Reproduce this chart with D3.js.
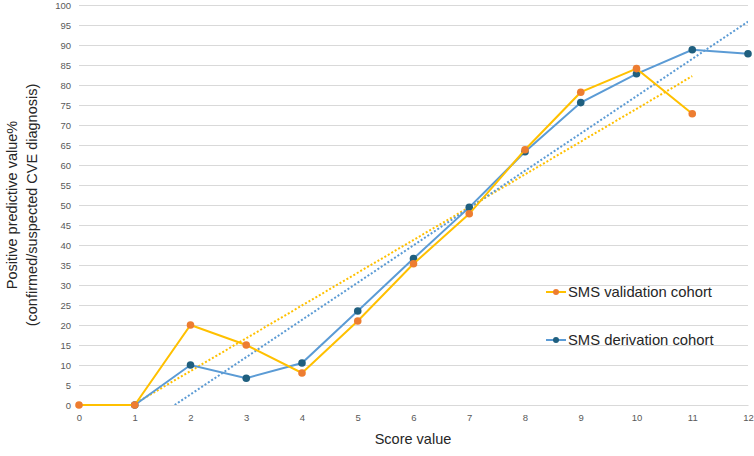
<!DOCTYPE html>
<html>
<head>
<meta charset="utf-8">
<script src="https://cdn.jsdelivr.net/npm/d3@7"></script>
<style>
  body { margin: 0; background: #fff; }
  text { font-family: "Liberation Sans", Arial, sans-serif; }
</style>
</head>
<body>
<div id="chart"></div>
<script>
const scoreTicks = [0, 1, 2, 3, 4, 5, 6, 7, 8, 9, 10, 11, 12];
const yTicks = d3.range(0, 101, 5);

const validationX = [0, 1, 2, 3, 4, 5, 6, 7, 8, 9, 10, 11];
const validationY = [0, 0, 20, 15, 8, 21, 35.3, 47.8, 63.8, 78.2, 84.1, 72.8];

const derivationX = [1, 2, 3, 4, 5, 6, 7, 8, 9, 10, 11, 12];
const derivationY = [0, 10, 6.7, 10.5, 23.5, 36.6, 49.4, 63.3, 75.6, 82.8, 88.8, 87.8];

const seriesNames = ["SMS validation cohort", "SMS derivation cohort"];

const width = 754, height = 456;
const margin = { top: 5, right: 6, bottom: 51, left: 79 };

const x = d3.scaleLinear().domain([0, 12]).range([margin.left, width - margin.right]);
const y = d3.scaleLinear().domain([0, 100]).range([height - margin.bottom, margin.top]);

const svg = d3.select("#chart").append("svg")
  .attr("width", width).attr("height", height);

svg.append("defs").append("clipPath").attr("id", "plot")
  .append("rect")
  .attr("x", margin.left).attr("y", margin.top)
  .attr("width", width - margin.left - margin.right)
  .attr("height", height - margin.top - margin.bottom);

// gridlines + y labels
const yAxis = svg.append("g")
  .attr("transform", `translate(${margin.left},0)`)
  .call(d3.axisLeft(y).tickValues(yTicks).tickSize(-(width - margin.left - margin.right)).tickPadding(8));
yAxis.select(".domain").remove();
yAxis.selectAll(".tick line").attr("stroke", "#d9d9d9").attr("stroke-width", 1);
yAxis.selectAll(".tick text").attr("fill", "#595959").style("font-size", "9.5px");

const xAxis = svg.append("g")
  .attr("transform", `translate(0,${height - margin.bottom})`)
  .call(d3.axisBottom(x).tickValues(scoreTicks).tickSize(0).tickPadding(9));
xAxis.select(".domain").attr("stroke", "#d9d9d9");
xAxis.selectAll(".tick text").attr("fill", "#595959").style("font-size", "9.5px");

// linear trendlines (least squares)
function fit(xs, ys) {
  const mx = d3.mean(xs), my = d3.mean(ys);
  const b = d3.sum(xs, (v, i) => (v - mx) * (ys[i] - my)) / d3.sum(xs, v => (v - mx) ** 2);
  return { a: my - b * mx, b };
}
function trendPts(xs, ys) {
  const f = fit(xs, ys);
  let x0 = d3.min(xs), x1 = d3.max(xs);
  if (f.a + f.b * x0 < 0) x0 = -f.a / f.b;
  return [[x0, f.a + f.b * x0], [x1, f.a + f.b * x1]];
}

const line = d3.line().x(d => x(d[0])).y(d => y(d[1]));
const plot = svg.append("g").attr("clip-path", "url(#plot)");

const series = [
  { xs: validationX, ys: validationY, line: "#FFC000", marker: "#ED7D31" },
  { xs: derivationX, ys: derivationY, line: "#5B9BD5", marker: "#1F5F7F" }
];

series.forEach(s => {
  plot.append("path")
    .attr("d", line(trendPts(s.xs, s.ys)))
    .attr("fill", "none").attr("stroke", s.line)
    .attr("stroke-width", 2).attr("stroke-dasharray", "2,2");
});

series.slice().reverse().forEach(s => {
  const pts = s.xs.map((v, i) => [v, s.ys[i]]);
  svg.append("path")
    .attr("d", line(pts))
    .attr("fill", "none").attr("stroke", s.line).attr("stroke-width", 2);
  svg.append("g").selectAll("circle").data(pts).join("circle")
    .attr("cx", d => x(d[0])).attr("cy", d => y(d[1]))
    .attr("r", 3.8).attr("fill", s.marker);
});

// legend
const legend = svg.append("g");
series.forEach((s, i) => {
  const ly = 292 + i * 48;
  legend.append("line").attr("x1", 546).attr("x2", 566).attr("y1", ly).attr("y2", ly)
    .attr("stroke", s.line).attr("stroke-width", 2);
  legend.append("circle").attr("cx", 556).attr("cy", ly).attr("r", 3).attr("fill", s.marker);
  legend.append("text").attr("x", 568).attr("y", ly).attr("dy", "0.35em")
    .style("font-size", "14.8px").attr("fill", "#262626").text(seriesNames[i]);
});

// axis titles
svg.append("text").attr("x", 413).attr("y", 444).attr("text-anchor", "middle")
  .style("font-size", "14.5px").attr("fill", "#262626").text("Score value");
svg.append("text").attr("transform", "translate(17,205) rotate(-90)").attr("text-anchor", "middle")
  .style("font-size", "14.5px").attr("fill", "#262626").text("Positive predictive value%");
svg.append("text").attr("transform", "translate(37,205) rotate(-90)").attr("text-anchor", "middle")
  .style("font-size", "14.5px").attr("fill", "#262626").text("(confirmed/suspected CVE diagnosis)");
</script>
</body>
</html>
